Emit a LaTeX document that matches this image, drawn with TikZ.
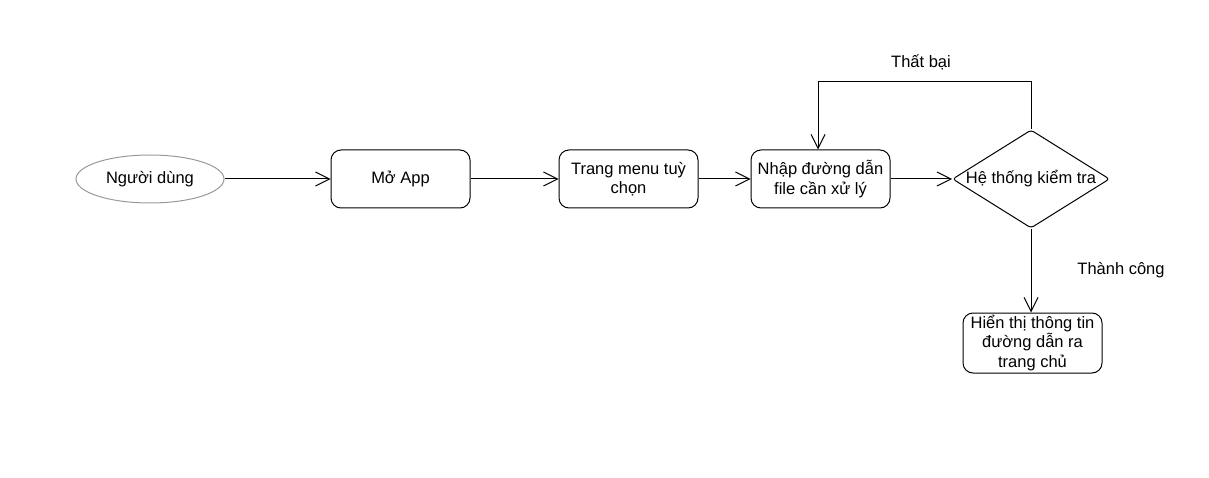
\documentclass[tikz,border=0pt]{standalone}
\usepackage{fontspec}
\setmainfont{Liberation Sans}
\usetikzlibrary{shapes.geometric,arrows.meta}
\begin{document}
\begin{tikzpicture}[x=1pt,y=-1pt,
  every node/.style={font=\fontsize{16.5}{19.5}\selectfont},
  box/.style={draw, rounded corners=10pt, minimum width=139pt, minimum height=58pt, align=center, line width=1pt, inner sep=2pt},
  arr/.style={draw, line width=1pt, -{Straight Barb[length=14pt,width=14pt,line width=1pt]}},
  lbl/.style={align=center}]
\useasboundingbox (0,0) rectangle (1209,478);
\node[draw=gray!80, ellipse, minimum width=148pt, minimum height=48pt, line width=1pt] (user) at (150,179) {Người dùng};
\node[box] (app) at (400.5,179) {Mở App};
\node[box] (menu) at (628.5,179) {Trang menu tuỳ\\chọn};
\node[box] (input) at (820.5,179) {Nhập đường dẫn\\file cần xử lý};
\node[draw, diamond, aspect=1.6, minimum width=157pt, minimum height=98pt, inner sep=0pt, line width=1pt, rounded corners=3pt] (check) at (1031,179) {Hệ thống kiểm tra};
\node[box, minimum height=60pt] (show) at (1032.5,343) {Hiển thị thông tin\\đường dẫn ra\\trang chủ};
\coordinate (c1) at (1031,82);
\coordinate (c2) at (818,82);
\draw[arr] (user) -- (app);
\draw[arr] (app) -- (menu);
\draw[arr] (menu) -- (input);
\draw[arr] (input) -- (check);
\draw[arr] (check.north) -- (c1) -- (c2) -- (input.north -| c2);
\draw[arr] (check.south) -- (show.north -| check.south);
\node[lbl] (fail) at (921,62) {Thất bại};
\node[lbl] (ok) at (1121,270) {Thành công};
\end{tikzpicture}
\end{document}
